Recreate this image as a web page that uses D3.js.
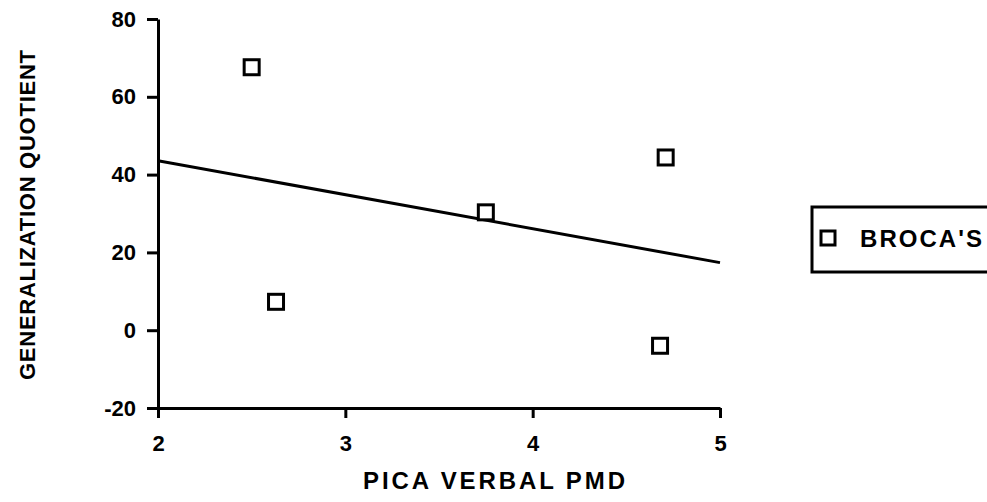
<!DOCTYPE html>
<html>
<head>
<meta charset="utf-8">
<script src="https://cdn.jsdelivr.net/npm/d3@7"></script>
<style>
  body { margin: 0; background: #fff; }
  svg { display: block; font-family: "Liberation Sans", Arial, sans-serif; font-weight: bold; }
  .axis path, .axis line { stroke: #000; stroke-width: 3; }
  .axis text { fill: #000; font-size: 22px; font-weight: bold; font-family: "Liberation Sans", Arial, sans-serif; }
</style>
</head>
<body>
<div id="chart"></div>
<script>
// PICA verbal PMD vs generalization quotient, Broca's group
const pmd = [2.5, 2.63, 3.75, 4.71, 4.68];
const gq = [67.6, 7.3, 30.3, 44.4, -4.0];
const xTicks = [2, 3, 4, 5];
const yTicks = [-20, 0, 20, 40, 60, 80];
const seriesName = "BROCA'S";

const W = 987, H = 502;

const svg = d3.select("#chart")
    .append("svg")
    .attr("width", W)
    .attr("height", H);

const x = d3.scaleLinear()
    .domain([2, 5])
    .range([158, 720]);

const y = d3.scaleLinear()
    .domain([-20, 80])
    .range([408, 19]);

// least-squares fit through the points
const mx = d3.mean(pmd), my = d3.mean(gq);
const sxy = d3.sum(pmd, (v, i) => (v - mx) * (gq[i] - my));
const sxx = d3.sum(pmd, v => (v - mx) * (v - mx));
const slope = sxy / sxx;
const fit = x.domain().map(v => ({ x: v, y: my + slope * (v - mx) }));

svg.append("g")
    .attr("class", "axis")
    .attr("transform", `translate(0,${y(-20)})`)
    .call(d3.axisBottom(x).tickValues(xTicks).tickFormat(d => String(d))
        .tickSize(10).tickSizeOuter(0).tickPadding(17));

svg.append("g")
    .attr("class", "axis")
    .attr("transform", `translate(${x(2)},0)`)
    .call(d3.axisLeft(y).tickValues(yTicks).tickFormat(d => String(d))
        .tickSize(11).tickSizeOuter(0).tickPadding(11));

svg.append("path")
    .datum(fit)
    .attr("fill", "none")
    .attr("stroke", "#000")
    .attr("stroke-width", 3)
    .attr("d", d3.line().x(d => x(d.x)).y(d => y(d.y)));

const s = 15;
svg.selectAll(".pt")
    .data(pmd.map((v, i) => ({ x: v, y: gq[i] })))
    .enter()
    .append("rect")
    .attr("class", "pt")
    .attr("x", d => x(d.x) - s / 2)
    .attr("y", d => y(d.y) - s / 2)
    .attr("width", s)
    .attr("height", s)
    .attr("fill", "#fff")
    .attr("stroke", "#000")
    .attr("stroke-width", 3);

// axis titles
svg.append("text")
    .attr("x", 494)
    .attr("y", 489)
    .attr("text-anchor", "middle")
    .attr("textLength", 262)
    .attr("lengthAdjust", "spacing")
    .style("font-size", "24px")
    .text("PICA VERBAL PMD");

svg.append("text")
    .attr("transform", "translate(35,215) rotate(-90)")
    .attr("text-anchor", "middle")
    .attr("textLength", 330)
    .attr("lengthAdjust", "spacing")
    .style("font-size", "22px")
    .text("GENERALIZATION QUOTIENT");

// legend
const legend = svg.append("g")
    .attr("transform", "translate(812,207)");

legend.append("rect")
    .attr("width", 190)
    .attr("height", 65)
    .attr("fill", "none")
    .attr("stroke", "#000")
    .attr("stroke-width", 3);

legend.append("rect")
    .attr("x", 9)
    .attr("y", 24)
    .attr("width", 14)
    .attr("height", 14)
    .attr("fill", "#fff")
    .attr("stroke", "#000")
    .attr("stroke-width", 3);

legend.append("text")
    .attr("x", 48)
    .attr("y", 40)
    .attr("textLength", 122)
    .attr("lengthAdjust", "spacing")
    .style("font-size", "24px")
    .text(seriesName);
</script>
</body>
</html>
